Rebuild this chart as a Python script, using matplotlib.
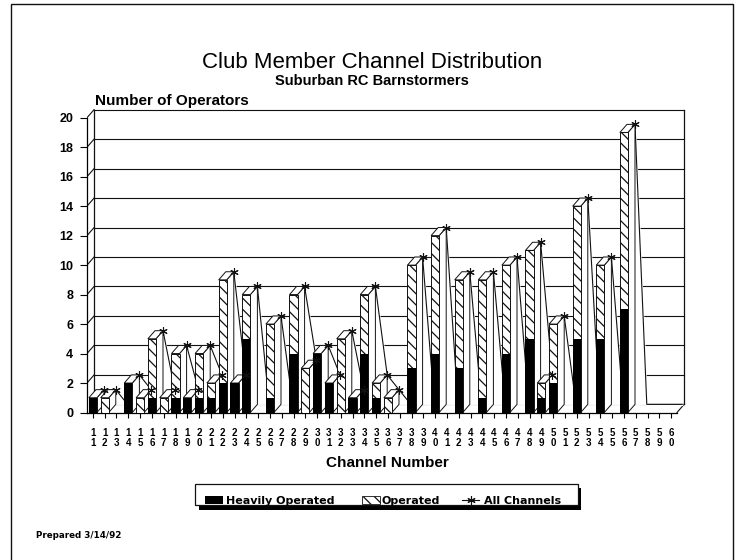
import numpy as np
import matplotlib
matplotlib.use("Agg")
import matplotlib.pyplot as plt
import matplotlib.patches as patches
from matplotlib.lines import Line2D

plt.rcParams['font.family'] = ['Liberation Sans', 'DejaVu Sans']
plt.rcParams['hatch.linewidth'] = 0.9

# channel numbers 11..60 and member counts
channels = list(range(11, 61))
heavy = [1, 0, 0, 2, 0, 1, 0, 1, 1, 1,
         1, 2, 2, 5, 0, 1, 0, 4, 0, 4,
         2, 0, 1, 4, 1, 0, 0, 3, 0, 4,
         0, 3, 0, 1, 0, 4, 0, 5, 1, 2,
         0, 5, 0, 5, 0, 7, 0, 0, 0, 0]
operated = [1, 1, 0, 2, 1, 5, 1, 4, 1, 4,
            2, 9, 2, 8, 0, 6, 0, 8, 3, 4,
            2, 5, 1, 8, 2, 1, 0, 10, 0, 12,
            0, 9, 0, 9, 0, 10, 0, 11, 2, 6,
            0, 14, 0, 10, 0, 19, 0, 0, 0, 0]
all_channels = operated
tick_labels = [f"{c // 10}\n{c % 10}" for c in channels]
yticks = list(range(0, 21, 2))

W, H = 744, 560
fig = plt.figure(figsize=(W / 100, H / 100), dpi=100)


def fx(px):
    return px / W


def fy(py):
    return 1 - py / H


# axes placed so that data x=10.5 sits at px 87 and y=0 at px 412.5
ax = fig.add_axes([fx(87), 147.5 / H, 601.8 / W, 309.5 / H])
ax.set_xlim(10.5, 61.5)
ax.set_ylim(0, 21)
ax.patch.set_alpha(0)

dx, dy = 0.6, 0.55      # depth offset of the 3d look
bw = 0.68
x = np.array(channels, dtype=float)
ops = np.array(operated, dtype=float)
x0, x1 = 10.5, 60.5
ink = '#111111'

# back wall and floor
for v in yticks[1:]:
    ax.plot([x0 + dx, x1 + dx], [v + dy, v + dy], color=ink, lw=0.8, zorder=1)
    ax.plot([x0, x0 + dx], [v, v + dy], color=ink, lw=0.8, zorder=1)
ax.plot([x0 + dx, x0 + dx], [dy, 20 + dy], color=ink, lw=0.9, zorder=1)
ax.plot([x1 + dx, x1 + dx], [dy, 20 + dy], color=ink, lw=0.9, zorder=1)
ax.plot([x0 + dx, x1 + dx], [dy, dy], color=ink, lw=0.9, zorder=1)
ax.plot([x1, x1 + dx], [0, dy], color=ink, lw=0.8, zorder=1)

# All Channels ribbon behind the bars
rx = x + bw / 2 + dx
ax.fill_between(rx, dy, ops + dy, color='white', zorder=2)
ax.plot(rx, np.array(all_channels) + dy, color=ink, lw=0.8, zorder=2.5)
ax.plot(rx[ops > 0], ops[ops > 0] + dy, ls='none', marker=(6, 2, 0),
        ms=6, mew=0.8, color=ink, zorder=6)

# 3d faces of the operated bars
for xi, oi in zip(x, ops):
    if oi <= 0:
        continue
    l, r = xi - bw / 2, xi + bw / 2
    top = [(l, oi), (r, oi), (r + dx, oi + dy), (l + dx, oi + dy)]
    side = [(r, 0), (r, oi), (r + dx, oi + dy), (r + dx, dy)]
    for poly in (side, top):
        ax.add_patch(patches.Polygon(poly, closed=True, facecolor='white',
                                     edgecolor=ink, lw=0.7, zorder=3))

ax.bar(x, ops, width=bw, facecolor='white', edgecolor=ink, hatch='\\\\\\',
       lw=0.7, zorder=4)
ax.bar(x, heavy, width=bw, color='black', lw=0, zorder=5)

# axes lines, ticks
for s in ('top', 'right'):
    ax.spines[s].set_visible(False)
ax.spines['left'].set_bounds(0, 20)
ax.spines['bottom'].set_bounds(x0, x1)
ax.spines['left'].set_linewidth(0.9)
ax.spines['bottom'].set_linewidth(0.9)
ax.set_yticks(yticks)
ax.set_yticklabels([str(v) for v in yticks], fontsize=9, fontweight='bold')
ax.tick_params(axis='y', length=5, width=0.8, pad=5)
ax.set_xticks(channels)
ax.set_xticklabels(tick_labels, fontsize=7, fontweight='bold', linespacing=0.95)
ax.tick_params(axis='x', length=3.5, width=0.8, pad=8)

# texts
wide = ['DejaVu Sans']
fig.text(fx(372), fy(62), "Club Member Channel Distribution", ha='center',
         va='center', fontsize=16)
fig.text(fx(372), fy(81), "Suburban RC Barnstormers", ha='center',
         va='center', fontsize=10.5, fontweight='bold')
fig.text(fx(95), fy(101), "Number of Operators", ha='left', va='center',
         fontsize=11, fontweight='bold')
fig.text(fx(387), fy(463), "Channel Number", ha='center', va='center',
         fontsize=11, fontweight='bold')
fig.text(fx(36), fy(535), "Prepared 3/14/92", ha='left', va='center',
         fontsize=6.3, fontweight='bold', family=wide)

# legend with drop shadow
tf = fig.transFigure
fig.add_artist(patches.Rectangle((fx(199), fy(510)), fx(382), 22 / H,
                                 facecolor='black', lw=0, transform=tf))
fig.add_artist(patches.Rectangle((fx(195), fy(505)), fx(383), 21 / H,
                                 facecolor='white', edgecolor=ink, lw=0.9,
                                 transform=tf))
fig.add_artist(patches.Rectangle((fx(205), fy(503.5)), fx(18), 7.5 / H,
                                 facecolor='black', lw=0, transform=tf))
fig.text(fx(226), fy(500.5), "Heavily Operated", ha='left', va='center',
         fontsize=8, fontweight='bold', family=wide)
fig.add_artist(patches.Rectangle((fx(362), fy(503.5)), fx(18), 7.5 / H,
                                 facecolor='white', edgecolor=ink, lw=0.6,
                                 hatch='\\\\\\', transform=tf))
fig.text(fx(382), fy(500.5), "Operated", ha='left', va='center',
         fontsize=8, fontweight='bold', family=wide)
fig.add_artist(Line2D([fx(462), fx(479)], [fy(500), fy(500)], color=ink, lw=0.8,
                      transform=tf))
fig.add_artist(Line2D([fx(470.5)], [fy(500)], marker=(6, 2, 0), ms=6, mew=0.8,
                      color=ink, transform=tf))
fig.text(fx(484), fy(500.5), "All Channels", ha='left', va='center',
         fontsize=8, fontweight='bold', family=wide)

# page frame
fig.add_artist(patches.Rectangle((fx(11), -0.01), fx(722), fy(4) + 0.01,
                                 facecolor='none', edgecolor=ink, lw=1.0,
                                 transform=tf))

fig.savefig("out.png", dpi=100)
